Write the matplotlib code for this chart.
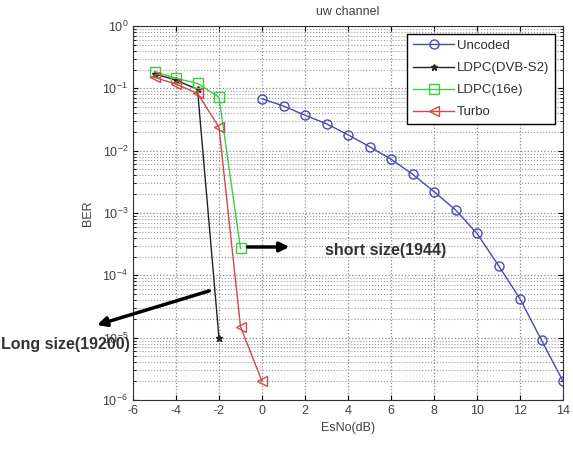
import matplotlib
matplotlib.use('Agg')
import matplotlib.pyplot as plt
from matplotlib.ticker import LogLocator, NullFormatter

plt.rcParams['font.family'] = ['Liberation Sans', 'DejaVu Sans']
plt.rcParams['axes.unicode_minus'] = False

# ---- data ----
snr_uncoded = [0, 1, 2, 3, 4, 5, 6, 7, 8, 9, 10, 11, 12, 13, 14]
ber_uncoded = [0.068, 0.052, 0.037, 0.027, 0.018, 0.0116, 0.0073, 0.0042,
               0.0022, 0.00112, 4.7e-4, 1.43e-4, 4.2e-5, 9.1e-6, 2.0e-6]

snr_dvb = [-5, -4, -3, -2]
ber_dvb = [0.17, 0.136, 0.096, 9.8e-6]

snr_16e = [-5, -4, -3, -2, -1]
ber_16e = [0.185, 0.145, 0.12, 0.072, 2.7e-4]

snr_turbo = [-5, -4, -3, -2, -1, 0]
ber_turbo = [0.15, 0.117, 0.083, 0.0237, 1.5e-5, 2.0e-6]

# ---- figure ----
W, H = 573, 467
fig = plt.figure(figsize=(W / 100, H / 100), dpi=100)
ax = fig.add_axes([133 / W, 1 - 400 / H, (563 - 133) / W, (400 - 26) / H])

txt = '#404040'
ax.semilogy(snr_uncoded, ber_uncoded, color='#4a4ab4', marker='o', mfc='none',
            markersize=6.5, linewidth=1.0, label='Uncoded')
ax.semilogy(snr_dvb, ber_dvb, color='#222222', marker='*', markersize=5,
            linewidth=1.0, label='LDPC(DVB-S2)')
ax.semilogy(snr_16e, ber_16e, color='#3ccc3c', marker='s', mfc='none',
            markersize=6.5, linewidth=1.0, label='LDPC(16e)')
ax.semilogy(snr_turbo, ber_turbo, color='#d04848', marker='<', mfc='none',
            markersize=6.5, linewidth=1.0, label='Turbo')

ax.set_xlim(-6, 14)
ax.set_ylim(1e-6, 1)
ax.set_xticks(range(-6, 15, 2))
ax.yaxis.set_major_locator(LogLocator(base=10, numticks=10))
ax.yaxis.set_minor_locator(LogLocator(base=10, subs=range(2, 10), numticks=10))
ax.yaxis.set_minor_formatter(NullFormatter())

ax.grid(True, which='major', linestyle=':', color='#888888', linewidth=0.9)
ax.grid(True, which='minor', axis='y', linestyle=':', color='#999999', linewidth=0.8)

ax.tick_params(which='both', direction='in', top=True, right=True,
               labelsize=9, colors='black', labelcolor=txt)
for sp in ax.spines.values():
    sp.set_color('#333333')

ax.set_title('uw channel', fontsize=9, color=txt, pad=8)
ax.set_xlabel('EsNo(dB)', fontsize=9, color=txt, labelpad=4)
ax.set_ylabel('BER', fontsize=9, color=txt, labelpad=6)

leg = ax.legend(loc='upper right', fontsize=9.5, fancybox=False, framealpha=1,
                edgecolor='black', borderpad=0.45, labelspacing=0.75,
                handlelength=3.1, handletextpad=0.2, borderaxespad=0.6)
for t in leg.get_texts():
    t.set_color('#303030')

# ---- annotations ----
ax.annotate('', xy=(1.4, 2.85e-4), xytext=(-0.8, 2.85e-4),
            arrowprops=dict(arrowstyle='-|>', color='black', lw=2.5,
                            mutation_scale=14), annotation_clip=False)
ax.annotate('', xy=(-7.8, 1.55e-5), xytext=(-2.33, 5.8e-5),
            arrowprops=dict(arrowstyle='-|>', color='black', lw=2.5,
                            mutation_scale=14), annotation_clip=False)
fig.text(325 / W, 1 - 250 / H, 'short size(1944)', fontsize=11.5,
         color='#333333', va='center', ha='left', fontweight='semibold')
fig.text(1 / W, 1 - 344 / H, 'Long size(19200)', fontsize=11.5,
         color='#333333', va='center', ha='left', fontweight='semibold')

fig.savefig('out.png', dpi=100)
